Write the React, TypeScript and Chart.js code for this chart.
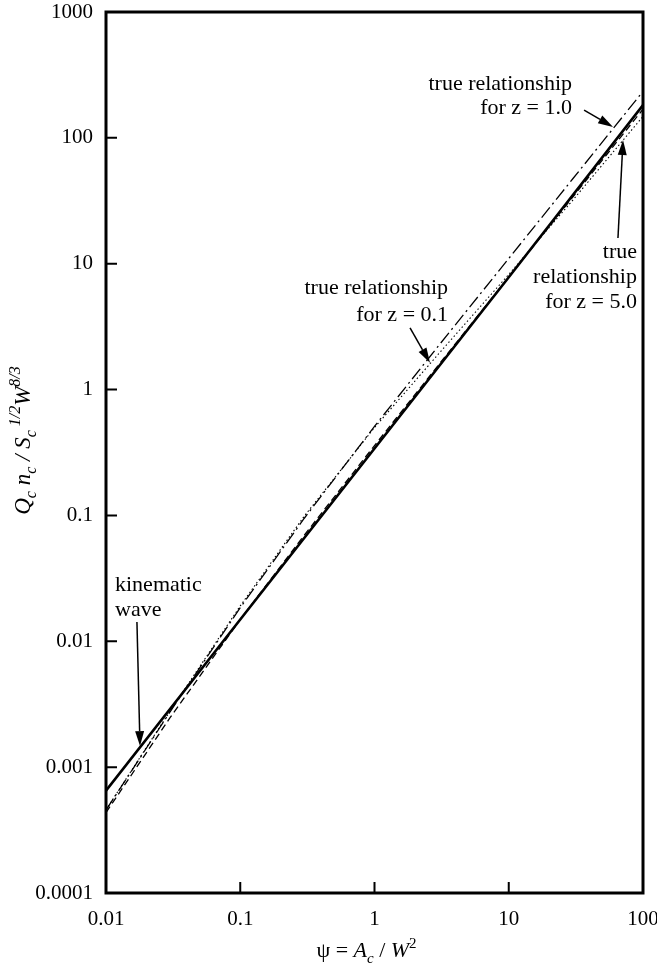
import React, { useEffect, useRef } from 'react';
import { Chart, registerables } from 'chart.js';

Chart.register(...registerables);

// ---- data ----
const xTickValues = [0.01, 0.1, 1, 10, 100];
const xTickLabels = ['0.01', '0.1', '1', '10', '100'];
const yTickValues = [0.0001, 0.001, 0.01, 0.1, 1, 10, 100, 1000];
const yTickLabels = ['0.0001', '0.001', '0.01', '0.1', '1', '10', '100', '1000'];

const psiKinematic = [0.01, 0.1, 1, 10, 100];
const qKinematic = [0.00065, 0.0149, 0.34, 7.8, 182];

const psiTrue = [0.01, 0.03, 0.1, 0.3, 1, 3, 10, 30, 100];
const qTrueZ1 = [0.000456, 0.00275, 0.0185, 0.095, 0.51, 2.23, 11.0, 47.3, 234];
const qTrueZ5 = [0.000436, 0.00247, 0.0149, 0.0697, 0.359, 1.57, 7.83, 33.9, 169];
const qTrueZ01 = [0.000458, 0.00279, 0.0191, 0.0988, 0.499, 1.92, 8.22, 32.0, 148];

// annotation texts (anchors in data coordinates)
const annZ1Lines = ['true relationship', 'for z = 1.0'];
const annZ1Anchor = { x: 29.6, y: [268, 173] };
const annZ1Arrow = [36.4, 166, 59.8, 122];

const annZ5Lines = ['true', 'relationship', 'for z = 5.0'];
const annZ5Anchor = { x: 90.2, y: [12.4, 7.8, 4.97] };
const annZ5Arrow = [65.1, 16.0, 71, 96];

const annZ01Lines = ['true relationship', 'for z = 0.1'];
const annZ01Anchor = { x: 3.53, y: [6.41, 3.91] };
const annZ01Arrow = [1.84, 3.09, 2.59, 1.63];

const annKinLines = ['kinematic', 'wave'];
const annKinAnchor = { x: 0.01167, y: [0.028, 0.01774] };
const annKinArrow = [0.017, 0.01422, 0.01792, 0.00147];

const SERIF = '"Liberation Serif", "Times New Roman", serif';

type Seg = { t: string; italic?: boolean; sub?: boolean; sup?: boolean };

function drawRich(ctx: CanvasRenderingContext2D, segs: Seg[], cx: number, cy: number, size: number, rotate: boolean) {
  ctx.save();
  ctx.translate(cx, cy);
  if (rotate) ctx.rotate(-Math.PI / 2);
  const small = Math.round(size * 0.68);
  const fontOf = (s: Seg) => `${s.italic ? 'italic ' : ''}${s.sub || s.sup ? small : size}px ${SERIF}`;
  const widths = segs.map((s) => {
    ctx.font = fontOf(s);
    return ctx.measureText(s.t).width;
  });
  const total = widths.reduce((a, b) => a + b, 0);
  let x = -total / 2;
  ctx.textBaseline = 'alphabetic';
  ctx.textAlign = 'left';
  ctx.fillStyle = '#000';
  const base = size * 0.33;
  segs.forEach((s, i) => {
    ctx.font = fontOf(s);
    const dy = s.sub ? size * 0.28 : s.sup ? -size * 0.42 : 0;
    ctx.fillText(s.t, x, base + dy);
    x += widths[i];
  });
  ctx.restore();
}

function drawArrow(ctx: CanvasRenderingContext2D, x1: number, y1: number, x2: number, y2: number) {
  const ang = Math.atan2(y2 - y1, x2 - x1);
  const headLen = 15;
  const headW = 4.5;
  const bx = x2 - headLen * Math.cos(ang);
  const by = y2 - headLen * Math.sin(ang);
  ctx.save();
  ctx.strokeStyle = '#000';
  ctx.fillStyle = '#000';
  ctx.lineWidth = 1.5;
  ctx.beginPath();
  ctx.moveTo(x1, y1);
  ctx.lineTo(bx, by);
  ctx.stroke();
  ctx.beginPath();
  ctx.moveTo(x2, y2);
  ctx.lineTo(bx + headW * Math.sin(ang), by - headW * Math.cos(ang));
  ctx.lineTo(bx - headW * Math.sin(ang), by + headW * Math.cos(ang));
  ctx.closePath();
  ctx.fill();
  ctx.restore();
}

const decorPlugin = {
  id: 'decor',
  afterDraw(chart: any) {
    const ctx: CanvasRenderingContext2D = chart.ctx;
    const { left, right, top, bottom } = chart.chartArea;
    const xs = chart.scales.x;
    const ys = chart.scales.y;

    // frame
    ctx.save();
    ctx.strokeStyle = '#000';
    ctx.lineWidth = 3;
    ctx.strokeRect(left, top, right - left, bottom - top);
    // inward ticks
    ctx.lineWidth = 2;
    ctx.beginPath();
    xTickValues.forEach((v) => {
      const px = xs.getPixelForValue(v);
      ctx.moveTo(px, bottom);
      ctx.lineTo(px, bottom - 11);
    });
    yTickValues.forEach((v) => {
      const py = ys.getPixelForValue(v);
      ctx.moveTo(left, py);
      ctx.lineTo(left + 11, py);
    });
    ctx.stroke();
    ctx.restore();

    // annotations
    const fs = 22;
    const drawLines = (lines: string[], anchor: { x: number; y: number[] }, align: CanvasTextAlign) => {
      ctx.save();
      ctx.font = `${fs}px ${SERIF}`;
      ctx.fillStyle = '#000';
      ctx.textAlign = align;
      ctx.textBaseline = 'middle';
      const px = xs.getPixelForValue(anchor.x);
      lines.forEach((l, i) => ctx.fillText(l, px, ys.getPixelForValue(anchor.y[i])));
      ctx.restore();
    };
    const arrow = (a: number[]) =>
      drawArrow(ctx, xs.getPixelForValue(a[0]), ys.getPixelForValue(a[1]), xs.getPixelForValue(a[2]), ys.getPixelForValue(a[3]));

    drawLines(annZ1Lines, annZ1Anchor, 'right');
    arrow(annZ1Arrow);
    drawLines(annZ5Lines, annZ5Anchor, 'right');
    arrow(annZ5Arrow);
    drawLines(annZ01Lines, annZ01Anchor, 'right');
    arrow(annZ01Arrow);
    drawLines(annKinLines, annKinAnchor, 'left');
    arrow(annKinArrow);

    // axis titles
    drawRich(
      ctx,
      [
        { t: 'Q', italic: true },
        { t: 'c', italic: true, sub: true },
        { t: ' n', italic: true },
        { t: 'c', italic: true, sub: true },
        { t: ' / ', italic: true },
        { t: 'S', italic: true },
        { t: 'c', italic: true, sub: true },
        { t: ' 1/2', italic: true, sup: true },
        { t: 'W', italic: true },
        { t: '8/3', italic: true, sup: true },
      ],
      22,
      (top + bottom) / 2 - 12,
      23,
      true
    );
    drawRich(
      ctx,
      [
        { t: 'ψ = ' },
        { t: 'A', italic: true },
        { t: 'c', italic: true, sub: true },
        { t: ' / ' },
        { t: 'W', italic: true },
        { t: '2', sup: true },
      ],
      (left + right) / 2 - 8,
      950,
      22,
      false
    );
  },
};

export default function App() {
  const ref = useRef<HTMLCanvasElement | null>(null);

  useEffect(() => {
    document.body.style.margin = '0';
    const canvas = ref.current;
    if (!canvas) return;
    const toPts = (xs: number[], ys: number[]) => xs.map((x, i) => ({ x, y: ys[i] }));
    const tickFont = { family: SERIF, size: 21 };

    const chart = new Chart(canvas, {
      type: 'scatter',
      data: {
        datasets: [
          {
            label: 'kinematic wave',
            data: toPts(psiKinematic, qKinematic),
            showLine: true,
            borderColor: '#000',
            borderWidth: 2.6,
            pointRadius: 0,
            fill: false,
          },
          {
            label: 'true relationship z = 1.0',
            data: toPts(psiTrue, qTrueZ1),
            showLine: true,
            borderColor: '#000',
            borderWidth: 1.3,
            borderDash: [13, 4, 2, 4],
            pointRadius: 0,
            fill: false,
          },
          {
            label: 'true relationship z = 5.0',
            data: toPts(psiTrue, qTrueZ5),
            showLine: true,
            borderColor: '#000',
            borderWidth: 1.3,
            borderDash: [7, 4],
            pointRadius: 0,
            fill: false,
          },
          {
            label: 'true relationship z = 0.1',
            data: toPts(psiTrue, qTrueZ01),
            showLine: true,
            borderColor: '#000',
            borderWidth: 1.1,
            borderDash: [1.5, 2.5],
            pointRadius: 0,
            fill: false,
          },
        ],
      },
      options: {
        animation: false,
        responsive: false,
        maintainAspectRatio: false,
        layout: { padding: { top: 12, right: 14, left: 0, bottom: 0 } },
        plugins: {
          legend: { display: false },
          tooltip: { enabled: false },
          title: { display: false },
        },
        scales: {
          x: {
            type: 'logarithmic',
            position: 'bottom',
            min: 0.01,
            max: 100,
            grid: { display: false, drawTicks: false },
            border: { display: false },
            ticks: {
              font: tickFont,
              color: '#000',
              padding: 14,
              maxRotation: 0,
              autoSkip: false,
              callback: (v: any) => {
                const i = xTickValues.findIndex((t) => Math.abs(Math.log10(t) - Math.log10(Number(v))) < 1e-6);
                return i >= 0 ? xTickLabels[i] : '';
              },
            },
            afterBuildTicks: (scale: any) => {
              scale.ticks = xTickValues.map((v) => ({ value: v }));
            },
            afterFit: (scale: any) => {
              scale.height = 79;
              scale.paddingLeft = 0;
              scale.paddingRight = 0;
            },
          },
          y: {
            type: 'logarithmic',
            position: 'left',
            min: 0.0001,
            max: 1000,
            grid: { display: false, drawTicks: false },
            border: { display: false },
            ticks: {
              font: tickFont,
              color: '#000',
              padding: 13,
              autoSkip: false,
              callback: (v: any) => {
                const i = yTickValues.findIndex((t) => Math.abs(Math.log10(t) - Math.log10(Number(v))) < 1e-6);
                return i >= 0 ? yTickLabels[i] : '';
              },
            },
            afterBuildTicks: (scale: any) => {
              scale.ticks = yTickValues.map((v) => ({ value: v }));
            },
            afterFit: (scale: any) => {
              scale.width = 106;
              scale.paddingTop = 0;
              scale.paddingBottom = 0;
            },
          },
        },
      } as any,
      plugins: [decorPlugin],
    });
    return () => chart.destroy();
  }, []);

  return (
    <div style={{ width: 657, height: 972, background: '#fff' }}>
      <canvas ref={ref} width={657} height={972} style={{ display: 'block' }} />
    </div>
  );
}
